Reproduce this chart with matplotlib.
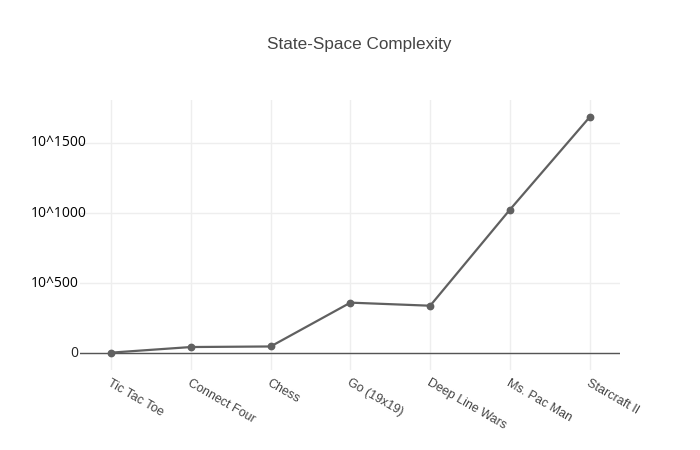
import matplotlib
matplotlib.use("Agg")
import matplotlib.pyplot as plt
import matplotlib.transforms as mtransforms

GAMES = ["Tic Tac Toe", "Connect Four", "Chess", "Go (19x19)",
         "Deep Line Wars", "Ms. Pac Man", "Starcraft II"]
# exponent of the state-space size (10^x)
EXPONENTS = [3, 43, 47, 360, 338, 1024, 1685]

Y_TICKS = [0, 500, 1000, 1500]
Y_LABELS = ["0", "10^500", "10^1000", "10^1500"]

LINE = "#606060"
GRID = "#eeeeee"

fig = plt.figure(figsize=(7, 4.5), dpi=100, facecolor="white")
ax = fig.add_axes([80 / 700, 1 - 370 / 450, 540 / 700, 270 / 450])

x = list(range(len(GAMES)))
ax.plot(x, EXPONENTS, color=LINE, lw=1.6, marker="o", ms=4.6,
        markerfacecolor=LINE, markeredgecolor=LINE, zorder=3)

ax.set_xlim(-0.39, 6.38)
ax.set_ylim(-121, 1807)

for s in ax.spines.values():
    s.set_visible(False)
ax.axhline(0, color="#555555", lw=1.0, zorder=2)

ax.set_xticks(x)
ax.set_xticklabels([])
ax.set_yticks(Y_TICKS)
ax.set_yticklabels([])
ax.tick_params(length=0)
ax.grid(True, color=GRID, lw=1.0, zorder=0)

# x labels, rotated like plotly's tilted ticks
for i, g in enumerate(GAMES):
    ax.annotate(g, xy=(i, 0), xycoords=("data", "axes fraction"),
                xytext=(0.5, -5), textcoords="offset points",
                ha="left", va="top", rotation=-30, rotation_mode="anchor",
                fontsize=9, color="#444444", family="Liberation Sans")

# y labels: "0" sits next to the axis, the others are left aligned
trans = mtransforms.blended_transform_factory(fig.transFigure, ax.transData)
for v, lab in zip(Y_TICKS, Y_LABELS):
    if lab == "0":
        ax.annotate(lab, xy=(0, v), xycoords=("axes fraction", "data"),
                    xytext=(-1, 0), textcoords="offset points",
                    ha="right", va="center", fontsize=10, color="#222222",
                    family="Open Sans")
    else:
        ax.text(31 / 700, v, lab, transform=trans, ha="left", va="center",
                fontsize=10, color="black", family="Open Sans")

fig.text(359 / 700, 1 - 44 / 450, "State-Space Complexity", ha="center",
         va="center", fontsize=12.3, color="#444444", family="Liberation Sans")

fig.savefig("out.png", dpi=100, facecolor="white")
